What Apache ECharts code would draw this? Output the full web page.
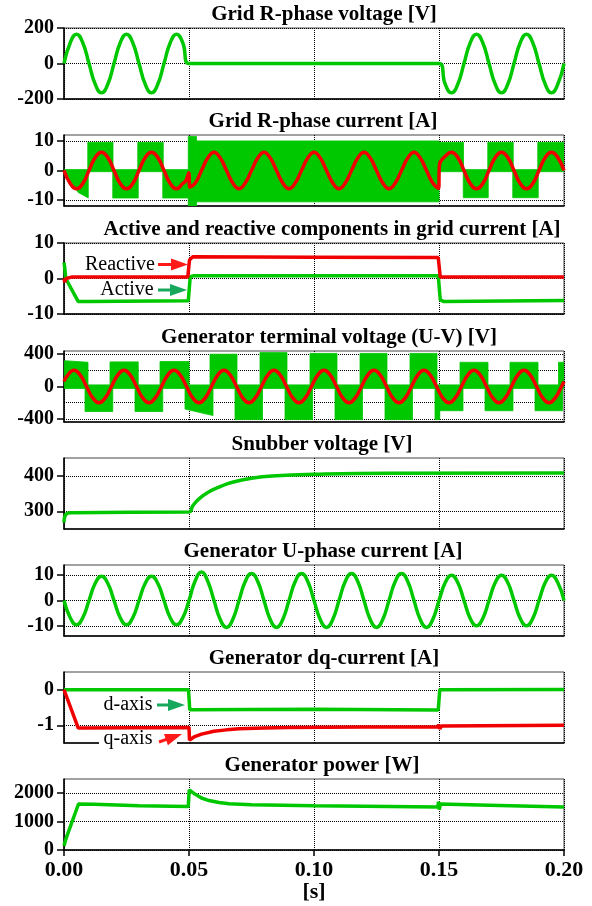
<!DOCTYPE html>
<html><head><meta charset="utf-8">
<script src="https://cdn.jsdelivr.net/npm/echarts@6/dist/echarts.min.js"></script>
<style>html,body{margin:0;padding:0;background:#fff}#c{width:592px;height:906px}</style>
</head><body><div id="c"></div>
<script>
// ---------------- DATA ----------------
const xTicks = [0, 0.05, 0.10, 0.15, 0.20];
const titles = [
  'Grid R-phase voltage [V]',
  'Grid R-phase current [A]',
  'Active and reactive components in grid current [A]',
  'Generator terminal voltage (U-V) [V]',
  'Snubber voltage [V]',
  'Generator U-phase current [A]',
  'Generator dq-current [A]',
  'Generator power [W]'
];
const yMins = [-200, -12, -10, -440, 250, -14, -1.5, 0];
const yMaxs = [200, 12, 10, 440, 450, 14, 0.5, 2500];
const yTicks1 = [-200, 0, 200];
const yTicks2 = [-10, 0, 10];
const yTicks3 = [-10, 0, 10];
const yTicks4 = [-400, -200, 0, 200, 400];
const yTicks5 = [300, 400];
const yTicks6 = [-10, 0, 10];
const yTicks7 = [-1, 0];
const yTicks8 = [0, 1000, 2000];

// Panel 1: grid R-phase voltage [t, V]
const gridVoltage = [[0,0],[0.0025,117],[0.005,165],[0.0075,117],[0.01,0],[0.0125,-117],[0.015,-165],[0.0175,-117],[0.02,0],[0.0225,117],[0.025,165],[0.0275,117],[0.03,0],[0.0325,-117],[0.035,-165],[0.0375,-117],[0.04,0],[0.0425,117],[0.045,165],[0.0475,117],[0.05,0],[0.1,0],[0.15,0],[0.1525,-117],[0.155,-165],[0.1575,-117],[0.16,0],[0.1625,117],[0.165,165],[0.1675,117],[0.17,0],[0.1725,-117],[0.175,-165],[0.1775,-117],[0.18,0],[0.1825,117],[0.185,165],[0.1875,117],[0.19,0],[0.1925,-117],[0.195,-165],[0.1975,-117],[0.2,0]];

// Panel 2: grid current PWM envelope bands [t0, t1, lo0, hi0, lo1, hi1] and fundamental
const gridCurrentBands = [
  [0.0002,0.0057,-0.5,0.3,-7.4,0.3],[0.0057,0.0097,-7.4,0.3,-9.3,0.3],
  [0.0095,0.0196,-0.4,9.5,-0.4,9.5],[0.0195,0.0297,-9.3,0.3,-9.3,0.3],
  [0.0295,0.0397,-0.4,9.5,-0.4,9.5],[0.0395,0.0500,-9.3,0.3,-9.3,0.3],
  [0.0497,0.0530,-12.3,11.5,-12.3,11.5],[0.0530,0.1500,-10.6,10,-10.6,10],
  [0.1498,0.1598,-0.4,9.5,-0.4,9.5],[0.1597,0.1697,-9.2,0.3,-9.2,0.3],
  [0.1695,0.1797,-0.4,9.5,-0.4,9.5],[0.1795,0.1897,-9.2,0.3,-9.2,0.3],
  [0.1895,0.2000,-0.4,9.5,-0.4,9.5]
];
const gridCurrentFund = [[0,0],[0.0025,-4.4],[0.005,-6.2],[0.0075,-4.4],[0.01,0],[0.0125,4.4],[0.015,6.2],[0.0175,4.4],[0.02,0],[0.0225,-4.4],[0.025,-6.2],[0.0275,-4.4],[0.03,0],[0.0325,4.4],[0.035,6.2],[0.0375,4.4],[0.04,0],[0.0425,-4.4],[0.045,-6.2],[0.0475,-4.4],[0.0487,-3.5],[0.0499,-0.8],[0.0503,-5.6],[0.0525,-4.2],[0.055,0],[0.0575,4.2],[0.06,6.2],[0.0625,4.2],[0.065,0],[0.0675,-4.2],[0.07,-6.2],[0.0725,-4.2],[0.075,0],[0.0775,4.2],[0.08,6.2],[0.0825,4.2],[0.085,0],[0.0875,-4.2],[0.09,-6.2],[0.0925,-4.2],[0.095,0],[0.0975,4.2],[0.1,6.2],[0.1025,4.2],[0.105,0],[0.1075,-4.2],[0.11,-6.2],[0.1125,-4.2],[0.115,0],[0.1175,4.2],[0.12,6.2],[0.1225,4.2],[0.125,0],[0.1275,-4.2],[0.13,-6.2],[0.1325,-4.2],[0.135,0],[0.1375,4.2],[0.14,6.2],[0.1425,4.2],[0.145,0],[0.1475,-4.2],[0.1498,-6.0],[0.1502,2.0],[0.1525,4.8],[0.155,6.2],[0.1575,4.4],[0.16,0],[0.1625,-4.4],[0.165,-6.2],[0.1675,-4.4],[0.17,0],[0.1725,4.4],[0.175,6.2],[0.1775,4.4],[0.18,0],[0.1825,-4.4],[0.185,-6.2],[0.1875,-4.4],[0.19,0],[0.1925,4.4],[0.195,6.2],[0.1975,4.4],[0.2,0]];

// Panel 3: active / reactive components
const reactive = [[0,0],[0.0003,-1],[0.0008,0],[0.003,0.4],[0.0495,0.4],[0.0502,5.2],[0.0515,6.1],[0.1,6.0],[0.1497,5.9],[0.1505,0.4],[0.2,0.4]];
const active = [[0,4.5],[0.0003,3],[0.0007,0],[0.0057,-6.5],[0.01,-6.5],[0.0497,-6.3],[0.0505,0.5],[0.052,0.8],[0.1497,0.8],[0.1505,-6.0],[0.152,-6.5],[0.2,-6.2]];

// Panel 4: generator terminal voltage PWM bands and fundamental
const genVoltBands = [
  [0.0002,0.0096,-25,320,-25,300],[0.0084,0.0195,-310,20,-310,20],
  [0.0184,0.0297,-25,305,-25,305],[0.0284,0.0395,-310,20,-310,20],
  [0.0384,0.0500,-25,310,-25,310],
  [0.0484,0.0596,-280,20,-360,20],[0.0584,0.0692,-25,400,-25,400],
  [0.0684,0.0794,-410,20,-410,20],[0.0784,0.0892,-25,420,-25,420],
  [0.0884,0.0994,-410,20,-410,20],[0.0984,0.1092,-25,410,-25,410],
  [0.1084,0.1194,-410,20,-410,20],[0.1184,0.1292,-25,410,-25,410],
  [0.1284,0.1394,-410,20,-410,20],[0.1384,0.1492,-25,410,-25,410],
  [0.1484,0.1503,-410,20,-410,20],
  [0.1500,0.1596,-300,20,-300,20],[0.1584,0.1696,-25,300,-25,300],
  [0.1684,0.1796,-300,20,-300,20],[0.1784,0.1896,-25,300,-25,300],
  [0.1884,0.1994,-300,20,-300,20],[0.1978,0.2000,-25,300,-25,300]
];
const genVoltFund = [[0,62],[0.0015,141],[0.004,200],[0.0065,141],[0.009,0],[0.0115,-141],[0.014,-200],[0.0165,-141],[0.019,0],[0.0215,141],[0.024,200],[0.0265,141],[0.029,0],[0.0315,-141],[0.034,-200],[0.0365,-141],[0.039,0],[0.0415,141],[0.044,200],[0.0465,141],[0.049,0],[0.0515,-141],[0.054,-200],[0.0565,-141],[0.059,0],[0.0615,141],[0.064,200],[0.0665,141],[0.069,0],[0.0715,-141],[0.074,-200],[0.0765,-141],[0.079,0],[0.0815,141],[0.084,200],[0.0865,141],[0.089,0],[0.0915,-141],[0.094,-200],[0.0965,-141],[0.099,0],[0.1015,141],[0.104,200],[0.1065,141],[0.109,0],[0.1115,-141],[0.114,-200],[0.1165,-141],[0.119,0],[0.1215,141],[0.124,200],[0.1265,141],[0.129,0],[0.1315,-141],[0.134,-200],[0.1365,-141],[0.139,0],[0.1415,141],[0.144,200],[0.1465,141],[0.149,0],[0.1515,-141],[0.154,-200],[0.1565,-141],[0.159,0],[0.1615,141],[0.164,200],[0.1665,141],[0.169,0],[0.1715,-141],[0.174,-200],[0.1765,-141],[0.179,0],[0.1815,141],[0.184,200],[0.1865,141],[0.189,0],[0.1915,-141],[0.194,-200],[0.1965,-141],[0.199,0],[0.2,62]];

// Panel 5: snubber voltage
const snubber = [[0,268],[0.0006,290],[0.003,296],[0.05,298],[0.0515,315],[0.054,335],[0.058,355],[0.062,368],[0.067,381],[0.075,393],[0.085,400],[0.1,404],[0.13,407],[0.2,408]];

// Panel 6: generator U-phase current
const genCurrent = [[0,0],[0.0025,-6.8],[0.005,-9.6],[0.0075,-6.8],[0.01,0],[0.0125,6.8],[0.015,9.6],[0.0175,6.8],[0.02,0],[0.0225,-6.8],[0.025,-9.6],[0.0275,-6.8],[0.03,0],[0.0325,6.8],[0.035,9.6],[0.0375,6.8],[0.04,0],[0.0425,-6.8],[0.045,-9.6],[0.0475,-6.8],[0.05,0],[0.0525,7.8],[0.055,11.2],[0.0575,7.6],[0.06,0],[0.0625,-7.5],[0.065,-10.6],[0.0675,-7.5],[0.07,0],[0.0725,7.5],[0.075,10.6],[0.0775,7.5],[0.08,0],[0.0825,-7.5],[0.085,-10.6],[0.0875,-7.5],[0.09,0],[0.0925,7.5],[0.095,10.6],[0.0975,7.5],[0.1,0],[0.1025,-7.5],[0.105,-10.6],[0.1075,-7.5],[0.11,0],[0.1125,7.5],[0.115,10.6],[0.1175,7.5],[0.12,0],[0.1225,-7.5],[0.125,-10.6],[0.1275,-7.5],[0.13,0],[0.1325,7.5],[0.135,10.6],[0.1375,7.5],[0.14,0],[0.1425,-7.5],[0.145,-10.6],[0.1475,-7.5],[0.15,0],[0.1525,7.1],[0.155,10],[0.1575,7.1],[0.16,0],[0.1625,-7.1],[0.165,-10],[0.1675,-7.1],[0.17,0],[0.1725,7.1],[0.175,10],[0.1775,7.1],[0.18,0],[0.1825,-7.1],[0.185,-10],[0.1875,-7.1],[0.19,0],[0.1925,7.1],[0.195,10],[0.1975,7.1],[0.2,0]];

// Panel 7: dq currents
const dCurrent = [[0,0],[0.0498,0],[0.0503,-0.56],[0.1,-0.55],[0.1497,-0.57],[0.1503,0],[0.2,0.01]];
const qCurrent = [[0,0],[0.0057,-1.08],[0.05,-1.06],[0.0502,-1.42],[0.052,-1.33],[0.055,-1.25],[0.06,-1.17],[0.065,-1.13],[0.07,-1.1],[0.08,-1.08],[0.09,-1.06],[0.12,-1.05],[0.1495,-1.05],[0.1499,-0.98],[0.1503,-1.1],[0.151,-1.02],[0.2,-1.0]];

// Panel 8: generator power
const genPower = [[0,150],[0.0008,400],[0.0058,1620],[0.012,1610],[0.03,1560],[0.0497,1530],[0.0501,2120],[0.0525,1960],[0.055,1830],[0.058,1740],[0.062,1670],[0.066,1630],[0.075,1590],[0.1,1555],[0.13,1530],[0.1495,1510],[0.1498,1700],[0.1501,1420],[0.1506,1620],[0.17,1580],[0.2,1510]];

// ---------------- LAYOUT / STYLE ----------------
const GREEN = '#00c800', RED = '#f00000', ARROW_GREEN = '#17a85b', ARROW_RED = '#ff1a1a';
const FONT = '"Liberation Serif", "Times New Roman", serif';
const gridTops = [28, 135, 243, 351, 458, 565, 672, 779];
const PLOT_LEFT = 64, PLOT_W = 500, PLOT_H = 71;
const titleX = [324, 323, 332, 329, 322, 323, 324, 322];
const yTickSets = [yTicks1, yTicks2, yTicks3, yTicks4, yTicks5, yTicks6, yTicks7, yTicks8];

const chart = echarts.init(document.getElementById('c'), null, {renderer: 'canvas'});

function renderBand(params, api) {
  const pts = [
    api.coord([api.value(0), api.value(3)]),
    api.coord([api.value(1), api.value(5)]),
    api.coord([api.value(1), api.value(4)]),
    api.coord([api.value(0), api.value(2)])
  ];
  return {type: 'polygon', shape: {points: pts}, style: {fill: GREEN, stroke: GREEN, lineWidth: 0.8}};
}

const grids = gridTops.map(t => ({left: PLOT_LEFT, top: t, width: PLOT_W, height: PLOT_H, show: true, borderColor: '#444', borderWidth: 1}));
const xAxes = gridTops.map((t, i) => ({
  type: 'value', gridIndex: i, min: 0, max: 0.2,
  axisLine: {show: true, onZero: false, lineStyle: {color: '#000', width: 1.5}},
  axisTick: {show: i === 7, length: 6, customValues: xTicks, lineStyle: {color: '#000', width: 1.5}},
  axisLabel: {show: i === 7, customValues: xTicks, formatter: v => v.toFixed(2), fontSize: 22, fontWeight: 'bold', fontFamily: FONT, color: '#000', margin: 9, showMinLabel: true, showMaxLabel: true},
  splitLine: {show: true, lineStyle: {type: 'dotted', color: '#000', width: 1}}
}));
const yAxes = gridTops.map((t, i) => ({
  type: 'value', gridIndex: i, min: yMins[i], max: yMaxs[i],
  axisLine: {show: true, onZero: false, lineStyle: {color: '#000', width: 1.5}},
  axisTick: {show: true, length: 7, customValues: yTickSets[i], lineStyle: {color: '#000', width: 1.5}},
  axisLabel: {customValues: yTickSets[i], formatter: v => String(v), fontSize: 20, fontWeight: 'bold', fontFamily: FONT, color: '#000', margin: 10, showMinLabel: true, showMaxLabel: true},
  splitLine: {show: true, lineStyle: {type: 'dotted', color: '#000', width: 1}}
}));

function line(idx, data, color, smooth) {
  return {type: 'line', xAxisIndex: idx, yAxisIndex: idx, data: data, showSymbol: false, symbol: 'none',
    smooth: smooth ? 0.5 : false, lineStyle: {color: color, width: 3.5}, itemStyle: {color: color}, z: 3, clip: true, silent: true};
}
function bands(idx, data) {
  return {type: 'custom', xAxisIndex: idx, yAxisIndex: idx, data: data, renderItem: renderBand, clip: true, silent: true, z: 2,
    encode: {x: [0, 1], y: [2, 3, 4, 5]}};
}

const series = [
  line(0, gridVoltage, GREEN, true),
  bands(1, gridCurrentBands),
  line(1, gridCurrentFund, RED, true),
  line(2, active, GREEN, false),
  line(2, reactive, RED, false),
  bands(3, genVoltBands),
  line(3, genVoltFund, RED, true),
  line(4, snubber, GREEN, true),
  line(5, genCurrent, GREEN, true),
  line(6, dCurrent, GREEN, false),
  line(6, qCurrent, RED, false),
  line(7, genPower, GREEN, false)
];

function txt(x, y, s, font, color) {
  return {type: 'text', x: x, y: y, z: 100, style: {text: s, font: font, fill: color || '#000', align: 'center', verticalAlign: 'middle'}};
}
function arrow(x0, y0, x1, y1, color) {
  const dx = x1 - x0, dy = y1 - y0, L = Math.sqrt(dx * dx + dy * dy);
  const ux = dx / L, uy = dy / L, nx = -uy, ny = ux;
  const hl = 17, hw = 6;
  const bx = x1 - ux * hl, by = y1 - uy * hl;
  return [
    {type: 'line', z: 100, shape: {x1: x0, y1: y0, x2: bx + ux * 2, y2: by + uy * 2}, style: {stroke: color, lineWidth: 3}},
    {type: 'polygon', z: 100, shape: {points: [[x1, y1], [bx + nx * hw, by + ny * hw], [bx - nx * hw, by - ny * hw]]}, style: {fill: color}}
  ];
}

const graphics = [];
titles.forEach((s, i) => graphics.push(txt(titleX[i], gridTops[i] - 13, s, 'bold 21px ' + FONT)));
graphics.push(txt(314, 892, '[s]', 'bold 22px ' + FONT));
// annotations panel 3
graphics.push(txt(120, 265, 'Reactive', '20px ' + FONT));
graphics.push(...arrow(158, 264.5, 188, 264.5, ARROW_RED));
graphics.push(txt(127, 290, 'Active', '20px ' + FONT));
graphics.push(...arrow(158, 290, 187, 290, ARROW_GREEN));
// annotations panel 7
graphics.push(txt(128, 705, 'd-axis', '20px ' + FONT));
graphics.push(...arrow(157, 705, 185, 705, ARROW_GREEN));
graphics.push({type: 'rect', z: 99, shape: {x: 99, y: 734, width: 78, height: 14}, style: {fill: '#fff'}});
graphics.push(txt(128, 739, 'q-axis', '20px ' + FONT));
graphics.push(...arrow(159, 742, 182, 734, ARROW_RED));

chart.setOption({
  animation: false,
  backgroundColor: '#fff',
  grid: grids,
  xAxis: xAxes,
  yAxis: yAxes,
  series: series,
  graphic: {elements: graphics}
});
</script></body></html>
